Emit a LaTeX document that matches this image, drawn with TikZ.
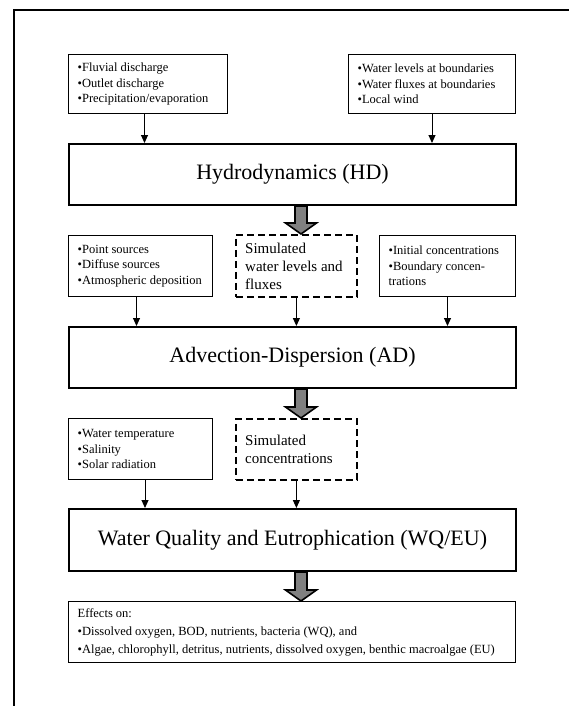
\documentclass[tikz,border=0pt]{standalone}
\usepackage{fontspec}
\setmainfont{Liberation Serif}
\usetikzlibrary{arrows.meta,calc}
\newcommand\fatarr[2]{%
  \draw[fat] ([xshift=-6pt]#1) -- ([xshift=-6pt,yshift=11pt]#2) -- ([xshift=-15.5pt,yshift=11pt]#2) -- (#2) -- ([xshift=15.5pt,yshift=11pt]#2) -- ([xshift=6pt,yshift=11pt]#2) -- ([xshift=6pt]#1) -- cycle;}
\begin{document}
\begin{tikzpicture}[x=1pt,y=-1pt,
  sbox/.style={draw, line width=1pt, inner sep=0pt, anchor=north west},
  dbox/.style={draw, line width=1.8pt, dash pattern=on 7pt off 4pt, inner sep=0pt, anchor=north west},
  mbox/.style={draw, line width=2pt, inner sep=0pt, anchor=north west, font=\fontsize{22}{26}\selectfont},
  stxt/.style={inner sep=0pt, anchor=west, align=left, font=\fontsize{12.5}{15.5}\selectfont},
  dtxt/.style={inner sep=0pt, anchor=west, align=left, font=\fontsize{15}{18}\selectfont},
  etxt/.style={inner sep=0pt, anchor=west, align=left, font=\fontsize{12.5}{18}\selectfont},
  arr/.style={line width=1pt, -{Triangle[width=7pt,length=8pt]}},
  fat/.style={draw=black, line width=1.6pt, fill=black!50, line join=miter},
  frame/.style={line width=2pt},
]
\useasboundingbox (0,0) rectangle (569,706);
% outer frame
\coordinate (fr1) at (14,706);
\coordinate (fr2) at (14,10);
\coordinate (fr3) at (569,10);
\draw[frame] (fr1) -- (fr2) -- (fr3);

% row 1
\node[sbox, minimum width=159pt, minimum height=59pt] (in1) at (68,54) {};
\node[stxt] (in1t) at ([xshift=9.5pt]in1.west) {•Fluvial discharge\\•Outlet discharge\\•Precipitation/evaporation};
\node[sbox, minimum width=167pt, minimum height=59pt] (in2) at (348,54) {};
\node[stxt] (in2t) at ([xshift=9.5pt]in2.west) {•Water levels at boundaries\\•Water fluxes at boundaries\\•Local wind};

\node[mbox, minimum width=447pt, minimum height=61pt] (hd) at (68,143) {Hydrodynamics (HD)};

% row 2
\node[sbox, minimum width=144pt, minimum height=61pt] (in3) at (68,235) {};
\node[stxt] (in3t) at ([xshift=9.5pt]in3.west) {•Point sources\\•Diffuse sources\\•Atmospheric deposition};
\node[dbox, minimum width=121pt, minimum height=62pt] (sim1) at (235,234) {};
\node[dtxt] (sim1t) at ([xshift=10pt]sim1.west) {Simulated\\water levels and\\fluxes};
\node[sbox, minimum width=136pt, minimum height=61pt] (in4) at (379,235) {};
\node[stxt] (in4t) at ([xshift=9.5pt]in4.west) {•Initial concentrations\\•Boundary concen-\\trations};

\node[mbox, minimum width=447pt, minimum height=61pt] (ad) at (68,326) {Advection-Dispersion (AD)};

% row 3
\node[sbox, minimum width=144pt, minimum height=61pt] (in5) at (68,418) {};
\node[stxt] (in5t) at ([xshift=9.5pt]in5.west) {•Water temperature\\•Salinity\\•Solar radiation};
\node[dbox, minimum width=121pt, minimum height=61pt] (sim2) at (235,418) {};
\node[dtxt] (sim2t) at ([xshift=10pt]sim2.west) {Simulated\\concentrations};

\node[mbox, minimum width=447pt, minimum height=62pt] (wq) at (68,508) {Water Quality and Eutrophication (WQ/EU)};

\node[sbox, minimum width=447pt, minimum height=61pt] (eff) at (68,601) {};
\node[etxt] (efft) at ([xshift=9.5pt]eff.west) {Effects on:\\•Dissolved oxygen, BOD, nutrients, bacteria (WQ), and\\•Algae, chlorophyll, detritus, nutrients, dissolved oxygen, benthic macroalgae (EU)};

% thin arrows
\coordinate (a1) at ([xshift=-3.5pt]in1.south);
\draw[arr] (a1) -- (a1 |- hd.north);
\coordinate (a2) at (in2.south);
\draw[arr] (a2) -- (a2 |- hd.north);
\coordinate (a3) at ([xshift=-4pt]in3.south);
\draw[arr] (a3) -- (a3 |- ad.north);
\coordinate (a4) at (sim1.south);
\draw[arr] (a4) -- (a4 |- ad.north);
\coordinate (a5) at (in4.south);
\draw[arr] (a5) -- (a5 |- ad.north);
\coordinate (a6) at ([xshift=4.5pt]in5.south);
\draw[arr] (a6) -- (a6 |- wq.north);
\coordinate (a7) at (sim2.south);
\draw[arr] (a7) -- (a7 |- wq.north);

% thick arrows
\coordinate (f1a) at ([xshift=8.5pt]hd.south);
\coordinate (f1b) at (f1a |- sim1.north);
\fatarr{f1a}{f1b}
\coordinate (f2a) at ([xshift=8.5pt]ad.south);
\coordinate (f2b) at (f2a |- sim2.north);
\fatarr{f2a}{f2b}
\coordinate (f3a) at ([xshift=8.5pt]wq.south);
\coordinate (f3b) at (f3a |- eff.north);
\fatarr{f3a}{f3b}
\end{tikzpicture}
\end{document}
